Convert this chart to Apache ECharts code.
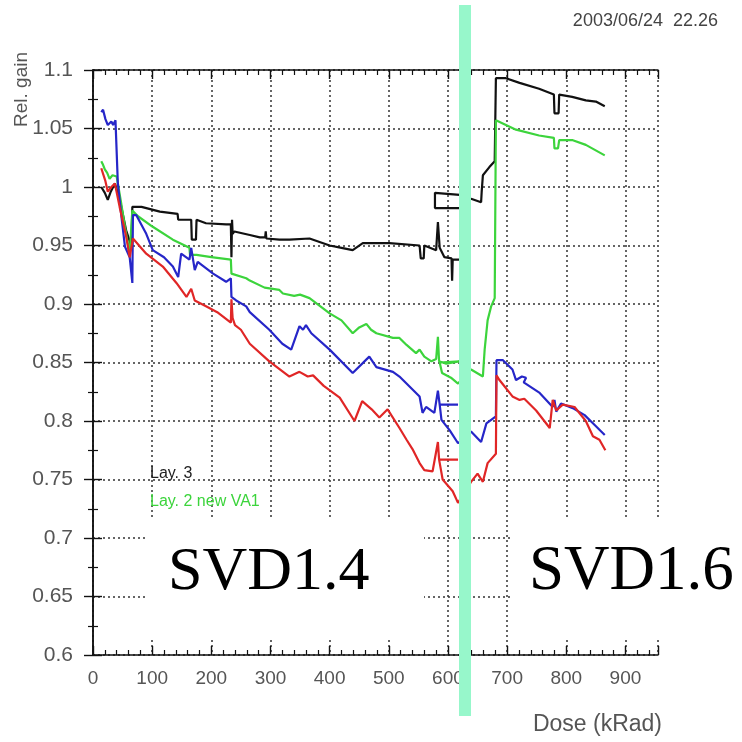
<!DOCTYPE html>
<html>
<head>
<meta charset="utf-8">
<script src="https://cdn.jsdelivr.net/npm/echarts@6/dist/echarts.min.js"></script>
<style>html,body{margin:0;padding:0;background:#fff;}#c{width:742px;height:742px;}</style>
</head>
<body>
<div id="c"></div>
<script>
// Dose (kRad) vs relative gain
const layer3 = [[14,1.000],[20,0.995],[25,0.989],[30,0.996],[37,1.003],[45,0.990],[56,0.963],[65,0.949],[66.5,0.983],[82,0.983],[113,0.979],[143,0.977],[144,0.972],[166,0.972],[167,0.955],[174,0.955],[175,0.972],[191,0.969],[225,0.968],[233,0.968],[234,0.940],[235,0.972],[236,0.960],[239,0.962],[265,0.959],[282,0.957],[291,0.957],[292,0.962],[293,0.956],[315,0.955],[332,0.955],[366,0.956],[400,0.950],[420,0.948],[439,0.946],[456,0.952],[501,0.952],[552,0.950],[554,0.939],[559,0.939],[560,0.950],[580,0.946],[583,0.970],[586,0.948],[594,0.940],[606,0.939],[607,0.920],[608,0.938],[617,0.938],[637,0.938],[630,0.982],[578,0.982],[578,0.995],[625,0.993],[639,0.990],[656,0.987],[657,0.996],[659,1.010],[670,1.017],[679,1.022],[681,1.093],[698,1.093],[721,1.089],[754,1.084],[779,1.079],[780,1.063],[787,1.063],[788,1.079],[810,1.077],[833,1.074],[850,1.073],[865,1.069]];
const layer2new = [[14,1.022],[17,1.019],[20,1.015],[24,1.012],[28,1.007],[33,1.010],[40,1.009],[42,1.003],[48,0.985],[54,0.966],[62,0.943],[66.5,0.980],[76,0.975],[101,0.966],[135,0.955],[163,0.948],[164,0.942],[175,0.942],[200,0.940],[233,0.938],[234,0.926],[259,0.922],[265,0.920],[290,0.914],[315,0.912],[321,0.909],[340,0.907],[350,0.908],[366,0.905],[400,0.892],[420,0.886],[439,0.875],[450,0.880],[462,0.883],[470,0.878],[479,0.875],[507,0.871],[518,0.871],[530,0.865],[546,0.858],[552,0.861],[560,0.855],[572,0.851],[580,0.853],[583,0.872],[585,0.851],[597,0.849],[619,0.851],[586,0.850],[590,0.841],[605,0.837],[617,0.832],[639,0.844],[659,0.838],[662,0.861],[667,0.886],[673,0.898],[679,0.905],[681,1.057],[698,1.053],[715,1.049],[754,1.044],[779,1.042],[780,1.033],[786,1.033],[788,1.040],[811,1.040],[833,1.036],[865,1.027]];
const layerBlue = [[14,1.064],[17,1.066],[21,1.058],[25,1.053],[31,1.056],[34,1.053],[38,1.057],[42,1.003],[48,0.975],[54,0.949],[62,0.940],[66.5,0.918],[67.5,0.976],[73,0.976],[90,0.960],[101,0.946],[120,0.940],[135,0.932],[144,0.923],[149,0.943],[163,0.938],[166,0.948],[172,0.929],[177,0.936],[203,0.926],[225,0.919],[233,0.922],[234,0.906],[242,0.903],[259,0.898],[265,0.893],[298,0.878],[320,0.866],[335,0.861],[349,0.881],[355,0.878],[360,0.882],[369,0.875],[400,0.861],[439,0.841],[467,0.855],[479,0.846],[507,0.842],[518,0.838],[552,0.821],[557,0.807],[563,0.812],[577,0.807],[583,0.826],[586,0.814],[617,0.814],[586,0.814],[589,0.801],[603,0.792],[617,0.781],[639,0.791],[656,0.782],[665,0.798],[681,0.804],[682,0.852],[693,0.852],[709,0.844],[715,0.835],[725,0.838],[732,0.837],[728,0.833],[755,0.824],[777,0.812],[780,0.818],[783,0.808],[791,0.815],[811,0.811],[831,0.805],[845,0.798],[865,0.788]];
const layerRed = [[14,1.016],[17,1.015],[21,1.005],[25,0.996],[31,1.000],[37,1.003],[45,0.983],[56,0.958],[62,0.940],[67.5,0.956],[90,0.943],[118,0.932],[141,0.918],[158,0.906],[166,0.913],[172,0.903],[191,0.898],[210,0.893],[233,0.884],[234,0.904],[236,0.888],[240,0.882],[250,0.878],[265,0.866],[298,0.851],[332,0.838],[349,0.842],[363,0.838],[372,0.839],[390,0.830],[417,0.820],[442,0.800],[455,0.817],[471,0.810],[484,0.803],[498,0.810],[518,0.794],[530,0.784],[540,0.776],[552,0.764],[560,0.758],[574,0.757],[583,0.782],[585,0.767],[617,0.767],[585,0.767],[591,0.750],[608,0.740],[617,0.730],[639,0.748],[650,0.755],[659,0.748],[667,0.764],[681,0.772],[682,0.839],[687,0.835],[709,0.821],[721,0.818],[729,0.819],[749,0.809],[772,0.794],[777,0.818],[783,0.809],[794,0.814],[814,0.812],[833,0.800],[845,0.787],[856,0.784],[866,0.775]];

const legendLabels = ['Lay. 3', 'Lay. 2 new VA1'];
const xTitle = 'Dose (kRad)';
const yTitle = 'Rel. gain';
const stampText = '2003/06/24  22.26';
const phaseLabels = ['SVD1.4', 'SVD1.6'];

const chart = echarts.init(document.getElementById('c'), null, {renderer: 'canvas'});
const ff = '"Liberation Sans", Arial, sans-serif';
const dotted = {show: true, lineStyle: {color: '#333', width: 1.5, type: [2, 3]}};
const axLine = {show: true, lineStyle: {color: '#111', width: 1.5}};
const majTick = {show: true, inside: true, length: 9, lineStyle: {color: '#111', width: 1.4}};

function mkSeries(name, data, color) {
  return {type: 'line', name, data, showSymbol: false, symbol: 'none', xAxisIndex: 0, yAxisIndex: 0,
    lineStyle: {color, width: 2.2}, itemStyle: {color}, animation: false, z: 5, clip: false};
}

chart.setOption({
  animation: false,
  backgroundColor: '#fff',
  grid: {left: 93, right: 84, top: 70, bottom: 87, containLabel: false},
  xAxis: [
    {type: 'value', min: 0, max: 955, interval: 100, position: 'bottom',
      axisLine: axLine, axisTick: majTick,
      minorTick: {show: true, splitNumber: 5, length: 5, lineStyle: {color: '#111', width: 1.2}},
      splitLine: dotted,
      axisLabel: {margin: 14, showMaxLabel: false, fontFamily: ff, fontSize: 19, color: '#555'}},
    {type: 'value', min: 0, max: 955, interval: 100, position: 'top',
      axisLine: axLine, axisTick: majTick,
      minorTick: {show: true, splitNumber: 5, length: 5, lineStyle: {color: '#111', width: 1.2}},
      splitLine: {show: false}, axisLabel: {show: false}}
  ],
  yAxis: [
    {type: 'value', min: 0.6, max: 1.1, interval: 0.05, position: 'left',
      axisLine: axLine, axisTick: majTick,
      minorTick: {show: true, splitNumber: 2, length: 5, lineStyle: {color: '#111', width: 1.2}},
      splitLine: dotted,
      axisLabel: {margin: 20, fontFamily: ff, fontSize: 21, color: '#555'}},
    {type: 'value', min: 0.6, max: 1.1, interval: 0.05, position: 'right',
      axisLine: axLine, axisTick: majTick,
      minorTick: {show: true, splitNumber: 2, length: 5, lineStyle: {color: '#111', width: 1.2}},
      splitLine: {show: false}, axisLabel: {show: false}}
  ],
  series: [
    mkSeries('Lay. 3', layer3, '#111111'),
    mkSeries('Lay. 2 new VA1', layer2new, '#3cd43c'),
    mkSeries('blue', layerBlue, '#2626c8'),
    mkSeries('red', layerRed, '#e02626')
  ],
  graphic: [
    {type: 'text', left: 150, top: 466, z: 50, style: {text: legendLabels[0], fill: '#222', font: '16px ' + ff}},
    {type: 'text', left: 150, top: 494, z: 50, style: {text: legendLabels[1], fill: '#3cd43c', font: '16px ' + ff}},
    {type: 'rect', z: 100, shape: {x: 148, y: 518, width: 276, height: 120}, style: {fill: '#fff'}},
    {type: 'rect', z: 100, shape: {x: 512, y: 517, width: 230, height: 123}, style: {fill: '#fff'}},
    {type: 'text', z: 101, x: 168, y: 604, style: {text: phaseLabels[0], fill: '#000', font: '62px "Liberation Serif", "Times New Roman", serif', textVerticalAlign: 'bottom'}},
    {type: 'text', z: 101, x: 529, y: 604, style: {text: phaseLabels[1], fill: '#000', font: '63px "Liberation Serif", "Times New Roman", serif', textVerticalAlign: 'bottom'}},
    {type: 'rect', z: 110, shape: {x: 459, y: 5, width: 12, height: 711}, style: {fill: '#97f7cb'}},
    {type: 'text', z: 50, x: 718, y: 21, style: {text: stampText, fill: '#444', font: '18px ' + ff, textAlign: 'right', textVerticalAlign: 'middle'}},
    {type: 'text', z: 50, x: 662, y: 725, style: {text: xTitle, fill: '#555', font: '23px ' + ff, textAlign: 'right', textVerticalAlign: 'middle'}},
    {type: 'text', z: 50, x: 22, y: 127, rotation: Math.PI / 2, style: {text: yTitle, fill: '#555', font: '19px ' + ff, textAlign: 'left', textVerticalAlign: 'middle'}}
  ]
});
</script>
</body>
</html>
